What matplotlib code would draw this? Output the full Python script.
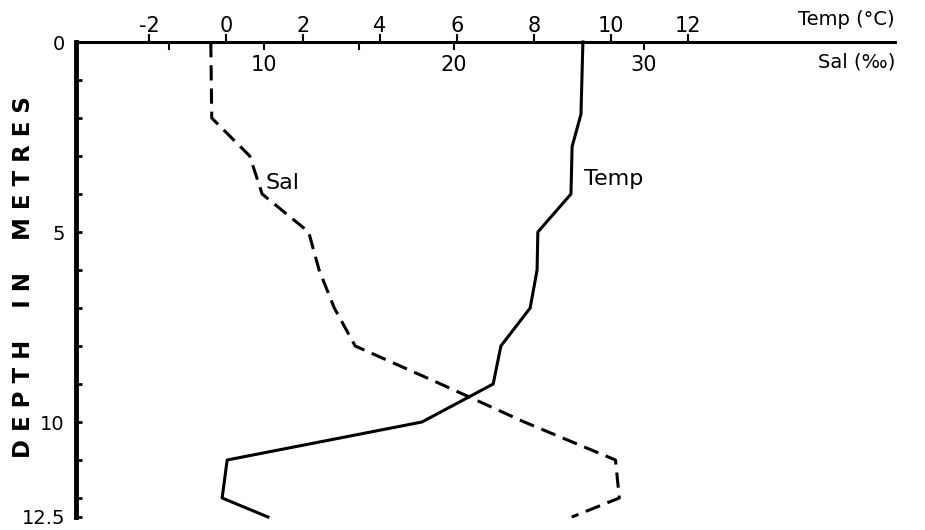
import matplotlib
matplotlib.use("Agg")
import matplotlib.pyplot as plt

FONT = "DejaVu Sans"
LW = 2.2

# temperature profile (deg C) vs depth (m)
depth_temp = [0, 1.9, 2.75, 4, 5, 6, 7, 8, 9, 10, 11, 12, 12.5]
temp = [9.27, 9.22, 8.99, 8.96, 8.10, 8.08, 7.90, 7.14, 6.94, 5.09, 0.03, -0.10, 1.09]

# salinity profile (per mille) vs depth (m)
depth_sal = [0, 2, 3, 4, 5, 6, 7, 8, 9, 10, 11, 12, 12.5]
sal = [7.2, 7.25, 9.25, 9.9, 12.35, 12.9, 13.7, 14.8, 19.3, 23.7, 28.5, 28.7, 26.2]

temp_ticks = [-2, 0, 2, 4, 6, 8, 10, 12]
sal_ticks = [10, 20, 30]
sal_minor = [5, 15]
depth_ticks = [0, 5, 10, 12.5]
depth_labels = ["0", "5", "10", "12.5"]
depth_minor = [1, 2, 3, 4, 6, 7, 8, 9, 11, 12]

fig = plt.figure(figsize=(9.25, 5.3), dpi=100)
ax = fig.add_axes([76 / 925, 1 - 517 / 530, 819 / 925, 475 / 530])
ax2 = ax.twiny()

ax.plot(temp, depth_temp, color="black", lw=LW, clip_on=False)
ax2.plot(sal, depth_sal, color="black", lw=LW, dashes=(5, 2.6), clip_on=False)

ax.set_xlim(-150 / 38.5, 669 / 38.5)
ax2.set_xlim(2 / 19, 821 / 19)
ax.set_ylim(12.5, 0)

for s in ["right", "bottom"]:
    ax.spines[s].set_visible(False)
for s in ax2.spines.values():
    s.set_visible(False)
ax.spines["top"].set_linewidth(LW)
ax.spines["left"].set_linewidth(3.5)

# temperature scale: ticks above the line
ax.xaxis.tick_top()
ax.set_xticks(temp_ticks)
ax.set_xticklabels([str(t) for t in temp_ticks], family=FONT)
ax.tick_params(axis="x", direction="out", length=6, width=1.5, labelsize=15, pad=-2)

# salinity scale: ticks and labels under the line
ax2.set_xticks(sal_ticks)
ax2.set_xticks(sal_minor, minor=True)
ax2.set_xticklabels([str(t) for t in sal_ticks], family=FONT)
ax2.tick_params(axis="x", which="both", direction="in", length=6, width=1.5,
                labelsize=15, pad=-24)

ax.set_yticks(depth_ticks)
ax.set_yticklabels(depth_labels, family=FONT)
ax.set_yticks(depth_minor, minor=True)
ax.tick_params(axis="y", which="both", direction="in", length=4, width=2,
               labelsize=14, pad=8)

ax.set_ylabel("D E P T H    I N    M E T R E S", family=FONT, fontsize=16.5,
              fontweight="bold")
ax.yaxis.set_label_coords(-0.050, 0.505)

ax.annotate("Temp (\u00b0C)", xy=(1, 1), xycoords="axes fraction", xytext=(0, 16),
            textcoords="offset points", ha="right", va="center", fontsize=14,
            family=FONT)
ax.annotate("Sal (\u2030)", xy=(1, 1), xycoords="axes fraction", xytext=(0, -14.5),
            textcoords="offset points", ha="right", va="center", fontsize=14,
            family=FONT)

ax.text(9.3, 3.6, "Temp", fontsize=16, family=FONT, ha="left", va="center")
ax2.text(10.1, 3.7, "Sal", fontsize=16, family=FONT, ha="left", va="center")

fig.savefig("out.png", dpi=100)
